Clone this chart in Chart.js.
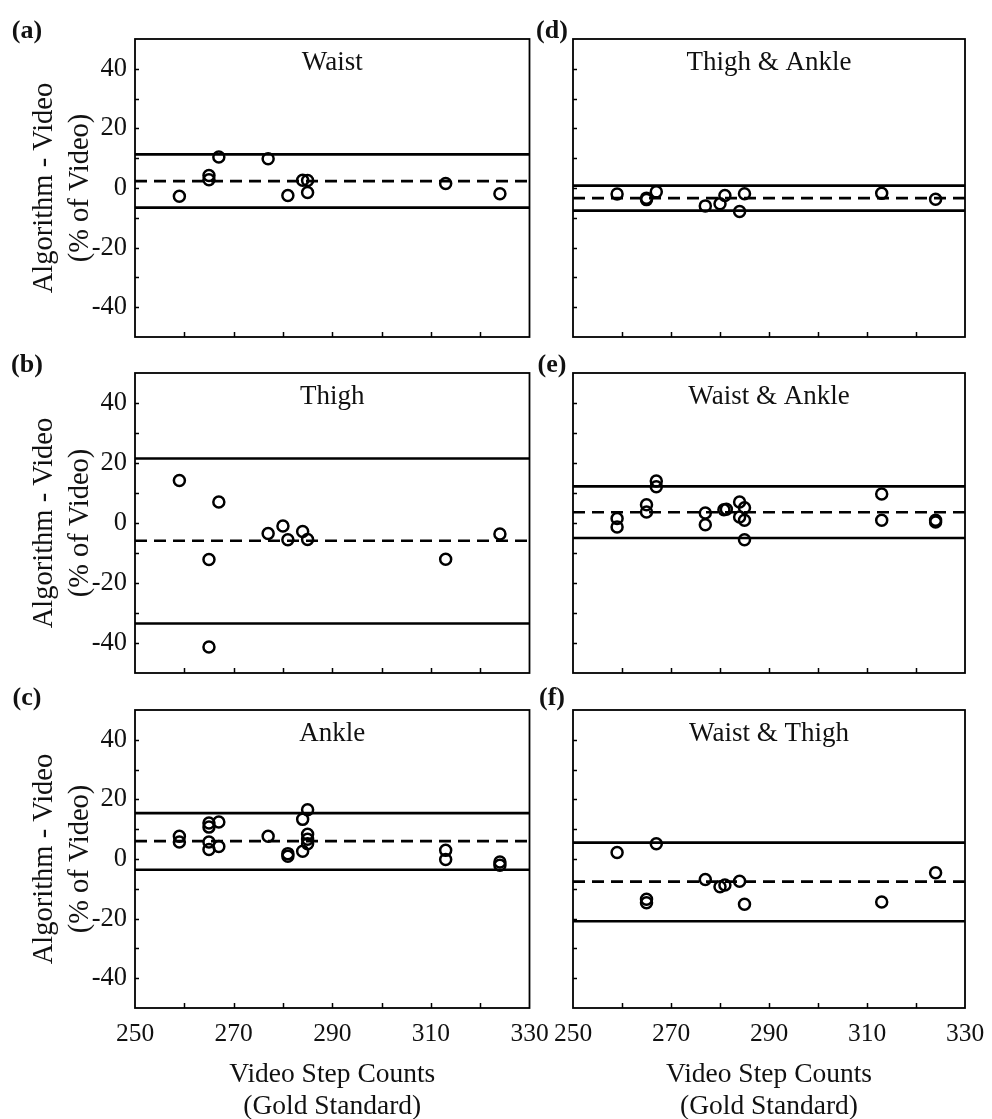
<!DOCTYPE html>
<html><head><meta charset="utf-8">
<script src="https://cdn.jsdelivr.net/npm/chart.js@4.4.1/dist/chart.umd.min.js"></script>
<style>
html,body{margin:0;padding:0;background:#fff;overflow:hidden;width:992px;height:1119px;position:relative;}
canvas{position:absolute;}
</style></head><body>
<canvas id="p0"></canvas><canvas id="p1"></canvas><canvas id="p2"></canvas>
<canvas id="p3"></canvas><canvas id="p4"></canvas><canvas id="p5"></canvas>
<script>
// ---- tick labels / text ----
const xTickLabels = [250, 270, 290, 310, 330];
const yTickLabels = [-40, -20, 0, 20, 40];
const panelLetters = ['(a)', '(b)', '(c)', '(d)', '(e)', '(f)'];
const panelTitles = ['Waist', 'Thigh', 'Ankle', 'Thigh & Ankle', 'Waist & Ankle', 'Waist & Thigh'];
const yTitle = ['Algorithm - Video', '(% of Video)'];
const xTitle = ['Video Step Counts', '(Gold Standard)'];

// ---- data: x = video step counts, y = difference (% of video); lines = [upper LoA, mean, lower LoA] ----
const waistX = [259, 265, 265, 267, 277, 281, 284, 285, 285, 313, 324];
const waistY = [-2.8, 4.2, 2.8, 10.4, 9.8, -2.5, 2.6, 2.5, -1.5, 1.5, -1.9];
const waistLines = [11.3, 2.3, -6.6];

const thighX = [259, 265, 265, 267, 277, 280, 281, 284, 285, 313, 324];
const thighY = [14.2, -12.2, -41.3, 7.0, -3.5, -1.0, -5.6, -2.8, -5.5, -12.1, -3.7];
const thighLines = [21.5, -5.9, -33.5];

const ankleX = [259, 259, 265, 265, 265, 265, 267, 267, 277, 281, 281, 284, 284, 285, 285, 285, 285, 313, 313, 324, 324];
const ankleY = [7.6, 5.7, 12.1, 10.7, 5.7, 3.2, 12.4, 4.2, 7.6, 1.8, 0.9, 13.3, 2.6, 16.5, 8.3, 6.6, 5.1, 2.9, -0.2, -1.0, -2.1];
const ankleLines = [15.4, 6.0, -3.6];

const thighAnkleX = [259, 265, 265, 267, 277, 280, 281, 284, 285, 313, 324];
const thighAnkleY = [-2.0, -3.4, -3.9, -1.3, -6.0, -5.3, -2.5, -7.9, -1.9, -1.8, -3.8];
const thighAnkleLines = [0.8, -3.4, -7.6];

const waistAnkleX = [259, 259, 265, 265, 267, 267, 277, 277, 280.8, 281.3, 284, 285, 284, 285, 285, 313, 313, 324, 324];
const waistAnkleY = [1.5, -1.3, 6.1, 3.7, 14.0, 12.1, 3.3, -0.6, 4.4, 4.6, 7.0, 5.1, 2.0, 0.9, -5.6, 9.7, 0.9, 0.9, 0.3];
const waistAnkleLines = [12.2, 3.6, -5.0];

const waistThighX = [259, 267, 265, 265, 277, 280, 281, 284, 285, 313, 324];
const waistThighY = [2.2, 5.1, -13.5, -14.7, -6.9, -9.3, -8.7, -7.5, -15.2, -14.4, -4.6];
const waistThighLines = [5.5, -7.6, -20.9];

const xRange = [250, 330];
const yRange = [-50, 50];

// ---- layout ----
const FONT = "'Liberation Serif', 'Times New Roman', Times, serif";
const colGeom = [
  {left: 0, width: 560, yw: 135, pr: 30.5, letterX: 27},
  {left: 520, width: 472, yw: 53, pr: 27, letterX: 32}
];
const rowGeom = [
  {top: 0, height: 345, pt: 39, xh: 8, letterY: 31},
  {top: 345, height: 335, pt: 28, xh: 7, letterY: 20},
  {top: 680, height: 443, pt: 30, xh: 115, letterY: 18.5}
];
const panels = [
  {xs: waistX, ys: waistY, lines: waistLines, col: 0, row: 0},
  {xs: thighX, ys: thighY, lines: thighLines, col: 0, row: 1},
  {xs: ankleX, ys: ankleY, lines: ankleLines, col: 0, row: 2},
  {xs: thighAnkleX, ys: thighAnkleY, lines: thighAnkleLines, col: 1, row: 0},
  {xs: waistAnkleX, ys: waistAnkleY, lines: waistAnkleLines, col: 1, row: 1},
  {xs: waistThighX, ys: waistThighY, lines: waistThighLines, col: 1, row: 2}
];

const framePlugin = {
  id: 'frame',
  afterDraw(chart, args, opts) {
    const {ctx, chartArea: a, scales} = chart;
    ctx.save();
    ctx.strokeStyle = '#000';
    ctx.lineWidth = 1.8;
    ctx.strokeRect(a.left, a.top, a.right - a.left, a.bottom - a.top);
    ctx.lineWidth = 1.5;
    ctx.beginPath();
    const ys = scales.y, xs = scales.x;
    ys.ticks.forEach(t => {
      if (t.value > ys.min && t.value < ys.max) {
        const py = Math.round(ys.getPixelForValue(t.value)) + 0.5;
        ctx.moveTo(a.left, py); ctx.lineTo(a.left + 4, py);
      }
    });
    xs.ticks.forEach(t => {
      if (t.value > xs.min && t.value < xs.max) {
        const px = Math.round(xs.getPixelForValue(t.value)) + 0.5;
        ctx.moveTo(px, a.bottom); ctx.lineTo(px, a.bottom - 5);
      }
    });
    ctx.stroke();
    // panel title
    ctx.fillStyle = '#111';
    ctx.font = '27px ' + FONT;
    ctx.textAlign = 'center';
    ctx.textBaseline = 'alphabetic';
    ctx.fillText(opts.title, (a.left + a.right) / 2, a.top + 31);
    // panel letter
    ctx.font = 'bold 26px ' + FONT;
    ctx.textBaseline = 'middle';
    ctx.fillText(opts.letter, opts.lx, opts.ly);
    ctx.restore();
  }
};

panels.forEach((p, i) => {
  const cg = colGeom[p.col], rg = rowGeom[p.row];
  const cv = document.getElementById('p' + i);
  cv.width = cg.width; cv.height = rg.height;
  cv.style.left = cg.left + 'px'; cv.style.top = rg.top + 'px';
  const showYLabels = p.col === 0;
  const showXLabels = p.row === 2;
  const pts = p.xs.map((x, k) => ({x: x, y: p.ys[k]}));
  const hline = v => [{x: xRange[0], y: v}, {x: xRange[1], y: v}];
  new Chart(cv, {
    type: 'scatter',
    data: {
      datasets: [
        {type: 'line', data: hline(p.lines[0]), borderColor: '#000', borderWidth: 2.6, pointRadius: 0, fill: false},
        {type: 'line', data: hline(p.lines[1]), borderColor: '#000', borderWidth: 2.6, borderDash: [12, 7], pointRadius: 0, fill: false},
        {type: 'line', data: hline(p.lines[2]), borderColor: '#000', borderWidth: 2.6, pointRadius: 0, fill: false},
        {data: pts, showLine: false, pointStyle: 'circle', pointRadius: 5.5, pointHoverRadius: 5.5,
         borderColor: '#000', backgroundColor: 'rgba(0,0,0,0)', borderWidth: 2.5}
      ]
    },
    options: {
      responsive: false, animation: false, devicePixelRatio: 1,
      events: [],
      layout: {autoPadding: false, padding: {top: rg.pt, right: cg.pr, bottom: 0, left: 0}},
      plugins: {
        legend: {display: false}, tooltip: {enabled: false},
        frame: {title: panelTitles[i], letter: panelLetters[i], lx: cg.letterX, ly: rg.letterY}
      },
      scales: {
        x: {
          type: 'linear', min: xRange[0], max: xRange[1],
          grid: {display: false, drawTicks: false}, border: {display: false},
          ticks: {display: showXLabels, stepSize: 10, autoSkip: false, maxRotation: 0, padding: 11, color: '#111',
                  font: {family: FONT, size: 25.5},
                  callback: v => xTickLabels.includes(v) ? String(v) : ''},
          title: {display: showXLabels, text: xTitle, color: '#111', padding: 0,
                  font: {family: FONT, size: 27.5, lineHeight: 1.18}},
          afterFit: s => { s.height = rg.xh; s.paddingLeft = 0; s.paddingRight = 0; s.paddingTop = 0; s.paddingBottom = 0; }
        },
        y: {
          type: 'linear', min: yRange[0], max: yRange[1],
          grid: {display: false, drawTicks: false}, border: {display: false},
          ticks: {display: showYLabels, stepSize: 10, autoSkip: false, padding: 8, color: '#111',
                  font: {family: FONT, size: 26.5},
                  callback: v => yTickLabels.includes(v) ? String(v) : ''},
          title: {display: showYLabels, text: yTitle, color: '#111', padding: {top: 27, bottom: 0},
                  font: {family: FONT, size: 28.5, lineHeight: 1.25}},
          afterFit: s => { s.width = cg.yw; s.paddingLeft = 0; s.paddingRight = 0; s.paddingTop = 0; s.paddingBottom = 0; }
        }
      }
    },
    plugins: [framePlugin]
  });
});
</script>
</body></html>
